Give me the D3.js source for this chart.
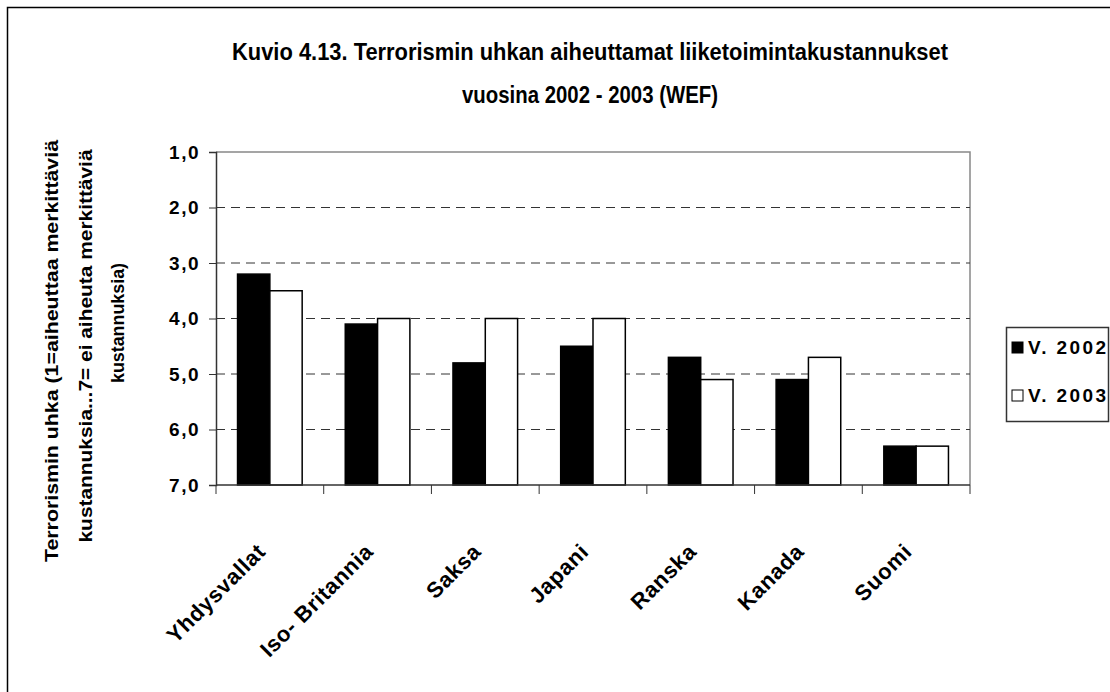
<!DOCTYPE html>
<html>
<head>
<meta charset="utf-8">
<script src="https://cdn.jsdelivr.net/npm/d3@7"></script>
<style>
  body { margin: 0; background: #fff; }
  text { font-family: "Liberation Sans", Arial, sans-serif; font-weight: bold; fill: #000; }
</style>
</head>
<body>
<script>
let countries = ["Yhdysvallat", "Iso- Britannia", "Saksa", "Japani", "Ranska", "Kanada", "Suomi"];
let series = ["V. 2002", "V. 2003"];
let values2002 = [3.2, 4.1, 4.8, 4.5, 4.7, 5.1, 6.3];
let values2003 = [3.5, 4.0, 4.0, 4.0, 5.1, 4.7, 6.3];
let yTicks = [1, 2, 3, 4, 5, 6, 7];
let titleLines = ["Kuvio 4.13. Terrorismin uhkan aiheuttamat liiketoimintakustannukset", "vuosina 2002 -  2003 (WEF)"];
let yTitleLines = ["Terrorismin uhka (1=aiheuttaa merkittäviä", "kustannuksia...7= ei aiheuta merkittäviä", "kustannuksia)"];

let width = 1110,
    height = 692,
    plot = {left: 216, right: 970, top: 152, bottom: 485};

let svg = d3.select("body").append("svg")
    .attr("width", width)
    .attr("height", height);

// outer frame (runs off the right and bottom edges)
svg.append("rect")
    .attr("x", 7.5).attr("y", 7.5)
    .attr("width", 1110).attr("height", 690)
    .attr("fill", "none").attr("stroke", "#000").attr("stroke-width", 1.5);

let x = d3.scaleBand()
    .domain(countries)
    .range([plot.left, plot.right])
    .paddingInner(0.4)
    .paddingOuter(0.2);

let xs = d3.scaleBand()
    .domain(series)
    .range([0, x.bandwidth()]);

let y = d3.scaleLinear()
    .domain([1, 7])
    .range([plot.top, plot.bottom]);

let fill = d3.scaleOrdinal().domain(series).range(["#000", "#fff"]);

// title (condensed look via textLength)
svg.selectAll(".title")
    .data(titleLines)
    .enter().append("text")
    .attr("class", "title")
    .attr("x", 590)
    .attr("y", function(d, i) { return 60 + i * 43; })
    .attr("text-anchor", "middle")
    .attr("font-size", 23)
    .attr("textLength", function(d, i) { return i === 0 ? 716 : 256; })
    .attr("lengthAdjust", "spacingAndGlyphs")
    .text(function(d) { return d; });

// plot border top/right
svg.append("path")
    .attr("d", "M" + plot.left + "," + plot.top + "H" + plot.right + "V" + plot.bottom)
    .attr("fill", "none").attr("stroke", "#888").attr("stroke-width", 1.5);

// dashed gridlines
svg.selectAll(".grid")
    .data(yTicks.slice(1, -1))
    .enter().append("line")
    .attr("class", "grid")
    .attr("x1", plot.left).attr("x2", plot.right)
    .attr("y1", function(d) { return y(d); })
    .attr("y2", function(d) { return y(d); })
    .attr("stroke", "#333").attr("stroke-width", 1)
    .attr("stroke-dasharray", "9,6");

// bars
let rows = countries.map(function(c, i) {
    return {country: c, values: [
        {key: series[0], value: values2002[i]},
        {key: series[1], value: values2003[i]}
    ]};
});

let group = svg.selectAll(".group")
    .data(rows)
    .enter().append("g")
    .attr("class", "group")
    .attr("transform", function(d) { return "translate(" + x(d.country) + ",0)"; });

group.selectAll("rect")
    .data(function(d) { return d.values; })
    .enter().append("rect")
    .attr("x", function(d) { return xs(d.key); })
    .attr("y", function(d) { return y(d.value); })
    .attr("width", xs.bandwidth())
    .attr("height", function(d) { return y(7) - y(d.value); })
    .attr("fill", function(d) { return fill(d.key); })
    .attr("stroke", "#000").attr("stroke-width", 1.5);

// y axis
let yAxis = svg.append("g")
    .attr("transform", "translate(" + plot.left + ",0)")
    .call(d3.axisLeft(y)
        .tickValues(yTicks)
        .tickSize(7)
        .tickPadding(9)
        .tickFormat(function(d) { return d3.format(".1f")(d).replace(".", ","); }));

yAxis.select(".domain").attr("stroke", "#333").attr("stroke-width", 1.5);
yAxis.selectAll(".tick line").attr("stroke", "#333");
yAxis.selectAll(".tick text")
    .attr("font-size", 19)
    .attr("font-family", "Liberation Sans, Arial, sans-serif")
    .attr("font-weight", "bold")
    .attr("letter-spacing", 1.5)
    .attr("fill", "#000");

// x axis line and category boundary ticks
let boundaries = d3.range(countries.length + 1).map(function(i) { return plot.left + i * x.step(); });
svg.append("line")
    .attr("x1", plot.left).attr("x2", plot.right)
    .attr("y1", plot.bottom).attr("y2", plot.bottom)
    .attr("stroke", "#333").attr("stroke-width", 1.5);
svg.selectAll(".xtick")
    .data(boundaries)
    .enter().append("line")
    .attr("class", "xtick")
    .attr("x1", function(d) { return d; }).attr("x2", function(d) { return d; })
    .attr("y1", plot.bottom).attr("y2", plot.bottom + 9)
    .attr("stroke", "#333").attr("stroke-width", 1);

// x labels
svg.selectAll(".xlabel")
    .data(countries)
    .enter().append("text")
    .attr("class", "xlabel")
    .attr("text-anchor", "end")
    .attr("font-size", 22)
    .attr("letter-spacing", 0.6)
    .attr("transform", function(d) {
        return "translate(" + (x(d) + x.bandwidth() / 2 - 3) + ",553) rotate(-45)";
    })
    .text(function(d) { return d; });

// y axis title
let yTitlePos = [{cx: 58, cy: 351, len: 422}, {cx: 92, cy: 346, len: 393}, {cx: 124, cy: 323, len: 120}];
svg.selectAll(".ytitle")
    .data(yTitleLines)
    .enter().append("text")
    .attr("class", "ytitle")
    .attr("text-anchor", "middle")
    .attr("font-size", 19)
    .attr("transform", function(d, i) { return "translate(" + yTitlePos[i].cx + "," + yTitlePos[i].cy + ") rotate(-90)"; })
    .attr("textLength", function(d, i) { return yTitlePos[i].len; })
    .attr("lengthAdjust", "spacingAndGlyphs")
    .text(function(d) { return d; });

// legend
let legend = svg.append("g").attr("transform", "translate(1006,327)");
legend.append("rect")
    .attr("x", 0.5).attr("y", 0.5)
    .attr("width", 102).attr("height", 94)
    .attr("fill", "#fff").attr("stroke", "#333").attr("stroke-width", 1.5);

let item = legend.selectAll(".item")
    .data(series)
    .enter().append("g")
    .attr("class", "item")
    .attr("transform", function(d, i) { return "translate(0," + (20 + i * 48) + ")"; });

item.append("rect")
    .attr("x", 6).attr("y", -5)
    .attr("width", 11).attr("height", 11)
    .attr("fill", function(d) { return fill(d); })
    .attr("stroke", "#000").attr("stroke-width", 1);

item.append("text")
    .attr("x", 22)
    .attr("dy", "0.36em")
    .attr("font-size", 19)
    .attr("textLength", 78)
    .attr("lengthAdjust", "spacing")
    .text(function(d) { return d; });
</script>
</body>
</html>
